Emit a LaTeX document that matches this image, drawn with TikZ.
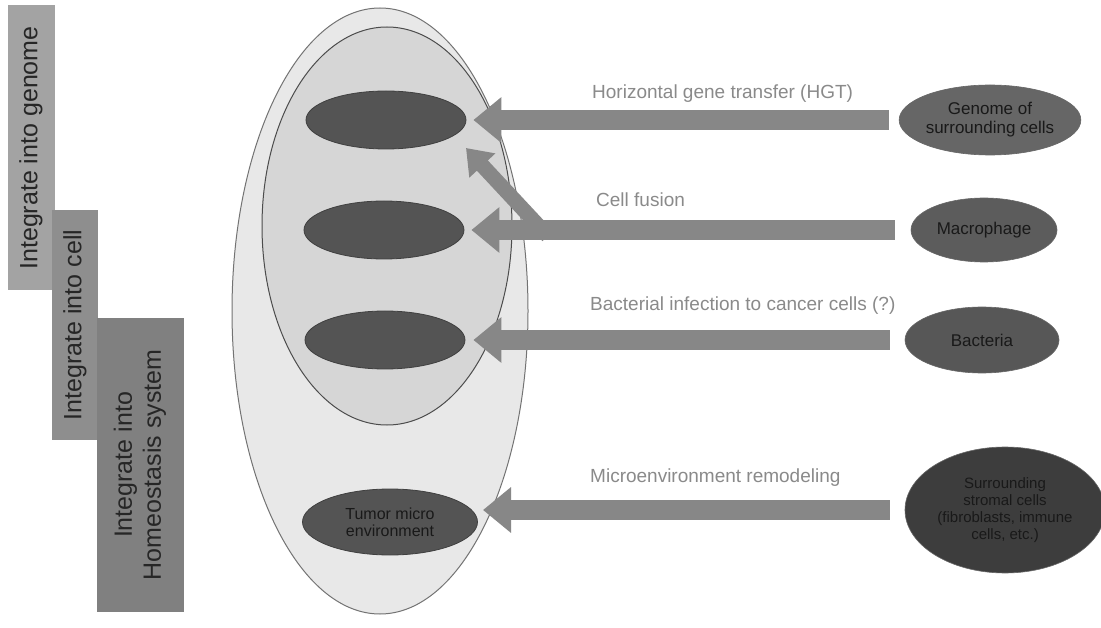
\documentclass[tikz,border=0pt]{standalone}
\usepackage{fontspec}
\setmainfont{Liberation Sans}
\usetikzlibrary{shapes.geometric,arrows.meta}
\definecolor{boxa}{HTML}{A3A3A3}
\definecolor{boxb}{HTML}{8E8E8E}
\definecolor{boxc}{HTML}{808080}
\definecolor{outerfill}{HTML}{E8E8E8}
\definecolor{innerfill}{HTML}{D6D6D6}
\definecolor{cellfill}{HTML}{545454}
\definecolor{arrowgray}{HTML}{878787}
\definecolor{labelgray}{HTML}{8A8A8A}
\begin{document}
\begin{tikzpicture}[x=1pt,y=-1pt,
  vbox/.style={fill=#1, draw=none, rotate=90, inner sep=2pt, text=black!85, font=\fontsize{25}{29}\selectfont, align=center},
  cellell/.style={ellipse, fill=cellfill, draw=black!75, line width=0.8pt, inner sep=0pt, minimum width=160pt, minimum height=58pt},
  srcell/.style={ellipse, fill=#1, draw=black!60, line width=0.6pt, inner sep=0pt, align=center, text=black!90, font=\fontsize{17}{19}\selectfont},
  bigarrow/.style={draw=arrowgray, line width=20pt, -{Triangle[width=44pt,length=28pt]}},
  lab/.style={text=labelgray, font=\fontsize{19}{22}\selectfont, anchor=west, inner sep=0pt}
]
\useasboundingbox (0,0) rectangle (1101,628);
\fill[white] (0,0) rectangle (1101,628);

% side boxes
\node[vbox=boxa, minimum width=285pt, minimum height=47pt] (b1) at (31,148) {Integrate into genome};
\node[vbox=boxb, minimum width=230pt, minimum height=46pt] (b2) at (75,325) {Integrate into cell};
\node[vbox=boxc, minimum width=294pt, minimum height=87pt] (b3) at (140,465) {Integrate into\\Homeostasis system};

% containers
\node[ellipse, fill=outerfill, draw=black!55, line width=1pt, minimum width=296pt, minimum height=606pt, inner sep=0pt] (outer) at (380,311) {};
\node[ellipse, fill=innerfill, draw=black!70, line width=1pt, minimum width=250pt, minimum height=398pt, inner sep=0pt] (inner) at (387,226) {};

% cells
\node[cellell] (c1) at (386,120) {};
\node[cellell] (c2) at (384,230) {};
\node[cellell] (c3) at (385,340) {};
\node[cellell, minimum width=175pt, minimum height=66pt, font=\fontsize{16}{17}\selectfont, text=black!90, align=center] (tme) at (390,522) {Tumor micro\\environment};

% sources
\node[srcell=black!60, minimum width=170pt, minimum height=70pt] (gen) at (990,120) {Genome of\\surrounding cells};
\node[srcell=black!64, minimum width=146pt, minimum height=64pt] (mac) at (984,230) {Macrophage};
\node[srcell=black!66, minimum width=154pt, minimum height=66pt] (bac) at (982,340) {Bacteria};
\node[srcell=black!76, minimum width=200pt, minimum height=126pt, font=\fontsize{15}{17}\selectfont] (str) at (1005,510) {Surrounding\\stromal cells\\(fibroblasts, immune\\cells, etc.)};

% arrows
\coordinate (fs) at (548,236);
\coordinate (ft) at (466,148);
\draw[arrowgray, line width=15pt, -{Triangle[width=34pt,length=24pt]}] (fs) -- (ft);
\draw[bigarrow, shorten <=10pt, shorten >=7pt] (gen.west) -- (c1.east);
\draw[bigarrow, shorten <=16pt, shorten >=7pt] (mac.west) -- (c2.east);
\draw[bigarrow, shorten <=15pt, shorten >=8pt] (bac.west) -- (c3.east);
\coordinate (t4) at (483,510);
\draw[bigarrow, shorten <=15pt] (str.west) -- (t4);

% labels
\node[lab] (l1) at (592,94) {Horizontal gene transfer (HGT)};
\node[lab] (l2) at (596,200) {Cell fusion};
\node[lab] (l3) at (590,306) {Bacterial infection to cancer cells (?)};
\node[lab] (l4) at (590,478) {Microenvironment remodeling};
\end{tikzpicture}
\end{document}
